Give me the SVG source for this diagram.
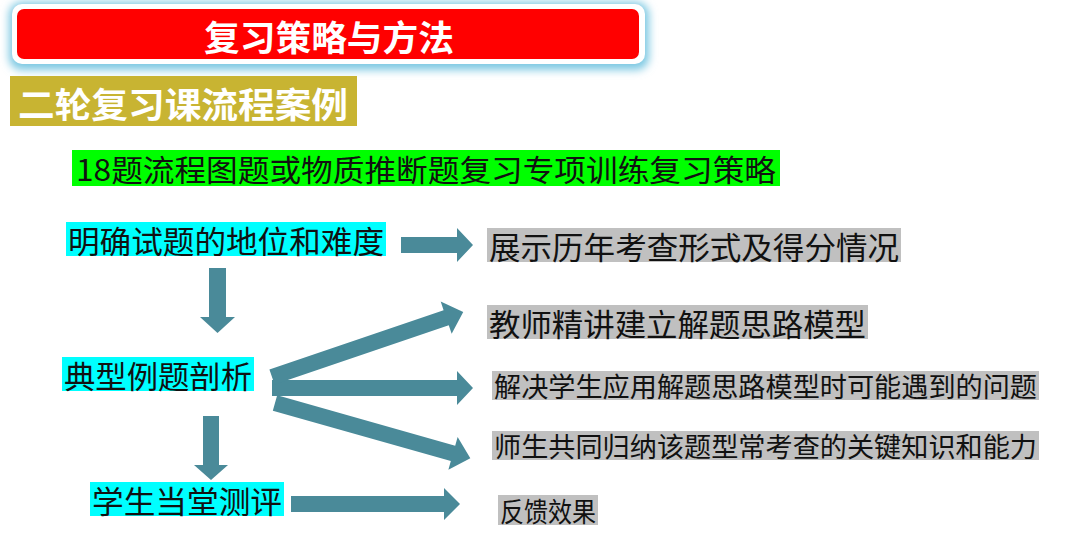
<svg xmlns="http://www.w3.org/2000/svg" width="1080" height="543" viewBox="0 0 1080 543">
<defs>
<style>
.t{font-family:"Noto Sans CJK SC","Noto Sans",sans-serif;fill:#111;dominant-baseline:central}
.cy{fill:#00ffff}.gr{fill:#c0c0c0}
.arr{fill:#4a8a99}
</style>
<filter id="glow" x="-10%" y="-30%" width="120%" height="160%"><feGaussianBlur stdDeviation="4"/></filter>
</defs>
<rect width="1080" height="543" fill="#fff"/>
<g id="banner">
<rect x="9" y="2" width="640" height="68" rx="13" fill="#7cc8e2" filter="url(#glow)"/>
<rect x="12" y="4" width="633" height="60" rx="10" fill="#fff"/>
<rect x="17" y="9" width="622" height="50" rx="7" fill="#ff0000"/>
<text x="329" y="35" class="t" text-anchor="middle" textLength="250" lengthAdjust="spacingAndGlyphs" style="fill:#fff;font-weight:bold;font-size:35px">复习策略与方法</text>
</g>
<g id="subtitle">
<rect x="10" y="76" width="347" height="50" fill="#c8b432"/>
<text x="18" y="102" class="t" textLength="330" lengthAdjust="spacingAndGlyphs" style="fill:#fff;font-weight:bold;font-size:35px">二轮复习课流程案例</text>
</g>
<g id="heading">
<rect x="72" y="150" width="708" height="36" fill="#00ff00"/>
<text x="76" y="168" class="t" textLength="700" lengthAdjust="spacingAndGlyphs" style="font-size:30px">18题流程图题或物质推断题复习专项训练复习策略</text>
</g>
<g id="n1"><rect x="66" y="222" width="320" height="34" class="cy"/><text x="68" y="239" class="t" textLength="316" lengthAdjust="spacingAndGlyphs" style="font-size:31px">明确试题的地位和难度</text></g>
<g id="n2"><rect x="62" y="357" width="192" height="34" class="cy"/><text x="64" y="374" class="t" textLength="188" lengthAdjust="spacingAndGlyphs" style="font-size:31px">典型例题剖析</text></g>
<g id="n3"><rect x="90" y="482" width="194" height="34" class="cy"/><text x="92" y="499" class="t" textLength="190" lengthAdjust="spacingAndGlyphs" style="font-size:31px">学生当堂测评</text></g>
<g id="r1"><rect x="487" y="228" width="414" height="34" class="gr"/><text x="489" y="245" class="t" textLength="410" lengthAdjust="spacingAndGlyphs" style="font-size:31px">展示历年考查形式及得分情况</text></g>
<g id="r2"><rect x="487" y="305" width="381" height="34" class="gr"/><text x="489" y="322" class="t" textLength="377" lengthAdjust="spacingAndGlyphs" style="font-size:31px">教师精讲建立解题思路模型</text></g>
<g id="r3"><rect x="492" y="371" width="547" height="29" class="gr"/><text x="494" y="385.5" class="t" textLength="543" lengthAdjust="spacingAndGlyphs" style="font-size:27px">解决学生应用解题思路模型时可能遇到的问题</text></g>
<g id="r4"><rect x="492" y="431" width="547" height="29" class="gr"/><text x="494" y="445.5" class="t" textLength="543" lengthAdjust="spacingAndGlyphs" style="font-size:27px">师生共同归纳该题型常考查的关键知识和能力</text></g>
<g id="r5"><rect x="498" y="495" width="100" height="30" class="gr"/><text x="500" y="510" class="t" textLength="96" lengthAdjust="spacingAndGlyphs" style="font-size:27px">反馈效果</text></g>
<g id="connectors" class="arr">
<polygon points="401,237 457,237 457,228 473,245 457,262 457,253 401,253"/>
<polygon points="209,268 226,268 226,317 235,317 217.5,333 200,317 209,317"/>
<polygon points="203,416 219,416 219,465 228,465 211,480 194,465 203,465"/>
<polygon points="272,380 457,380 457,371 473,388 457,405 457,396 272,396"/>
<polygon points="291,496 444,496 444,488 460,504 444,520 444,512 291,512"/>
<polygon transform="translate(272,377) rotate(-18.8)" points="0,-8 184,-8 184,-17 202,0 184,17 184,8 0,8"/>
<polygon transform="translate(275,403) rotate(15.8)" points="0,-8 185,-8 185,-17 203,0 185,17 185,8 0,8"/>
</g>
</svg>
